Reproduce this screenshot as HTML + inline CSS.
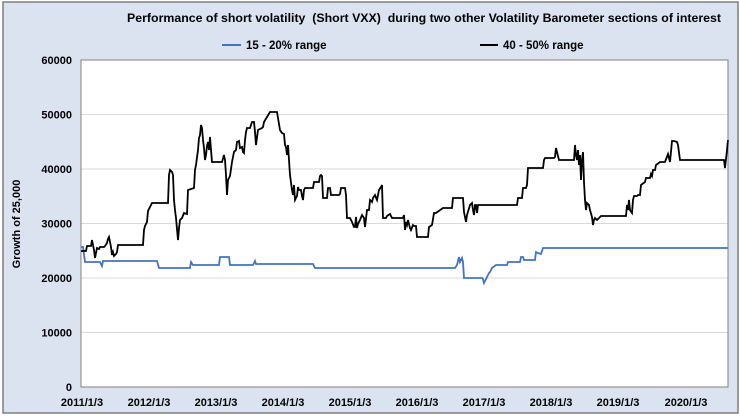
<!DOCTYPE html>
<html><head><style>
body{margin:0;background:#fff;}
svg{display:block;font-family:"Liberation Sans",Arial,sans-serif;font-weight:bold;}
</style></head><body>
<svg width="740" height="416" viewBox="0 0 740 416" xmlns="http://www.w3.org/2000/svg">
<rect x="3" y="2" width="735" height="411" fill="#dbe3f1" stroke="#7f7f7f" stroke-width="1.5"/>
<rect x="81" y="60" width="647" height="327" fill="#fff"/>
<g stroke="#d9d9d9" stroke-width="1">
<line x1="81" x2="728" y1="114.5" y2="114.5"/>
<line x1="81" x2="728" y1="169" y2="169"/>
<line x1="81" x2="728" y1="223.5" y2="223.5"/>
<line x1="81" x2="728" y1="278" y2="278"/>
<line x1="81" x2="728" y1="332.5" y2="332.5"/>
</g>
<rect x="81" y="60" width="647" height="327" fill="none" stroke="#808080" stroke-width="1"/>
<text x="127" y="22" font-size="12" xml:space="preserve" textLength="594" lengthAdjust="spacingAndGlyphs" fill="#000">Performance of short volatility  (Short VXX)  during two other Volatility Barometer sections of interest</text>
<line x1="222" x2="241" y1="45" y2="45" stroke="#4472c4" stroke-width="2"/>
<text x="246" y="49" font-size="11.5" fill="#000">15 - 20% range</text>
<line x1="480" x2="498" y1="45" y2="45" stroke="#000" stroke-width="2"/>
<text x="503" y="49" font-size="11.5" fill="#000">40 - 50% range</text>
<g font-size="11" text-anchor="end" fill="#000">
<text x="72" y="64">60000</text><text x="72" y="118.5">50000</text><text x="72" y="173">40000</text>
<text x="72" y="227.5">30000</text><text x="72" y="282">20000</text><text x="72" y="336.5">10000</text><text x="72" y="391">0</text>
</g>
<g font-size="11" text-anchor="middle" fill="#000">
<text x="82" y="406">2011/1/3</text><text x="149" y="406">2012/1/3</text><text x="216" y="406">2013/1/3</text>
<text x="283" y="406">2014/1/3</text><text x="350" y="406">2015/1/3</text><text x="417" y="406">2016/1/3</text>
<text x="484" y="406">2017/1/3</text><text x="551" y="406">2018/1/3</text><text x="618" y="406">2019/1/3</text>
<text x="686" y="406">2020/1/3</text>
</g>
<text transform="translate(20,224) rotate(-90)" font-size="11" text-anchor="middle" fill="#000">Growth of 25,000</text>
<polyline fill="none" stroke="#4472c4" stroke-width="1.8" points="81,247 83,247 85,262 100,262 102,266 103,261 157,261 159,268 190,268 191,262 193,265 219,265 220,257 229,257 230,265 253,265 255,261 256,264 313,264 315,268 455,268 457,265 459,257 460,262 462,258 463,262 464,278 482,278 483,279 484,283 485,281 487,277 489,273 490,272 492,268 496,265 507,265 508,262 520,262 521,257 523,257 524,260 535,260 536,252 538,253 541,254 542,251 543,248 552,248 728,248"/>
<polyline fill="none" stroke="#000" stroke-width="1.8" points="81,251 86,251 87,246 91,246 92,240 94,250 95,258 97,248 99,249 100,247 104,247 105,246 107,243 108,239 109,237 110,242 111,247 112,255 113,252 114,256 116,254 117,252 118,245 143,245 144,230 145,226 147,222 148,211 152,203 168,203 169,175 170,170 172,172 173,175 174,200 175,210 176,218 178,240 179,228 180,220 182,218 184,213 187,214 188,190 194,188 195,170 196,165 198,150 199,138 200,135 201,125 202,128 203,140 204,148 205,160 206,155 207,146 208,142 209,150 210,137 211,150 212,162 222,162 224,155 225,160 226,175 227,195 228,180 230,176 232,162 234,152 236,150 237,142 239,141 240,148 242,147 243,152 244,153 245,140 246,132 247,128 250,128 251,125 252,122 254,122 255,132 256,145 258,130 262,128 263,127 264,122 270,112 277,112 278,118 280,130 282,133 284,134 285,145 286,147 287,155 288,145 289,160 290,175 292,190 293,195 294,185 295,200 297,196 298,187 299,190 301,190 302,196 303,200 304,190 305,188 313,188 314,182 319,182 320,176 321,175 322,176 323,198 327,198 328,188 330,188 331,195 339,195 340,194 341,188 345,188 346,195 347,218 350,218 352,222 354,227 355,227 356,217 357,228 358,224 359,222 360,220 362,215 364,218 365,227 367,210 369,210 370,200 372,202 373,198 375,195 377,200 379,190 381,187 382,185 383,218 386,218 387,216 390,214 392,218 403,218 404,215 405,230 406,222 407,225 408,220 410,228 411,230 413,225 414,226 416,226 417,237 428,237 429,227 432,225 434,213 436,213 443,208 452,208 453,198 463,198 464,212 466,222 467,215 470,205 472,203 473,210 474,215 475,205 476,205 477,213 478,205 517,205 518,198 522,198 523,188 526,188 527,185 528,168 543,168 544,160 545,158 554,158 555,157 556,148 557,152 559,160 574,160 575,145 576,155 577,160 578,150 579,165 580,155 581,180 582,160 583,152 584,182 585,200 586,210 587,203 589,205 590,210 592,217 593,225 594,220 595,218 597,220 601,216 626,216 627,205 628,210 629,200 630,210 632,213 633,200 634,196 637,196 638,195 640,195 641,185 645,182 646,178 650,178 651,174 652,176 653,170 655,170 656,165 660,162 665,162 668,154 670,162 672,141 674,141 677,142 678,145 680,160 724,160 725,168 727,150 728,140"/>
</svg>
</body></html>
